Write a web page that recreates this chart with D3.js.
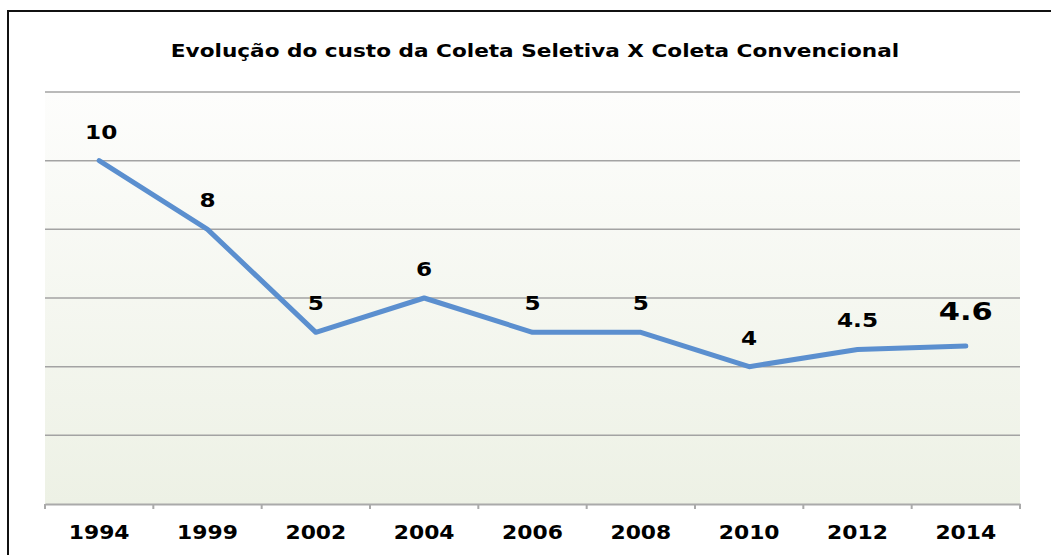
<!DOCTYPE html>
<html>
<head>
<meta charset="utf-8">
<script src="https://cdn.jsdelivr.net/npm/d3@7"></script>
<style>
  body { margin: 0; background: #fff; }
  text { font-family: "DejaVu Sans", Verdana, sans-serif; font-weight: bold; fill: #000; }
</style>
</head>
<body>
<script>
// chart data
var years = ["1994", "1999", "2002", "2004", "2006", "2008", "2010", "2012", "2014"];
var custo = [10, 8, 5, 6, 5, 5, 4, 4.5, 4.6];
var labels = ["10", "8", "5", "6", "5", "5", "4", "4.5", "4.6"];
var gridValues = [0, 2, 4, 6, 8, 10, 12];
var title = "Evolução do custo da Coleta Seletiva X Coleta Convencional";

var width = 1051, height = 555;
var margin = {left: 45, right: 31, top: 92, bottom: 51};

var svg = d3.select("body").append("svg")
  .attr("width", width).attr("height", height);

// background gradient of the plot area
var grad = svg.append("defs").append("linearGradient")
  .attr("id", "bg").attr("x1", 0).attr("y1", 0).attr("x2", 0).attr("y2", 1);
grad.append("stop").attr("offset", "0%").attr("stop-color", "#fdfdfc");
grad.append("stop").attr("offset", "100%").attr("stop-color", "#edf1e5");

var x = d3.scaleBand().domain(years)
  .range([margin.left, width - margin.right]);
var y = d3.scaleLinear().domain([0, 12])
  .range([height - margin.bottom, margin.top]);

// text in the original is stretched sideways, so scale it around its anchor
function stretched(sel, sx) {
  return sel.attr("transform", function(d) {
    var p = d3.select(this);
    var tx = +p.attr("x"), ty = +p.attr("y");
    return "translate(" + tx + "," + ty + ") scale(" + sx + ",1) translate(" + (-tx) + "," + (-ty) + ")";
  });
}

// frame (only top and left edges visible)
svg.append("path")
  .attr("d", "M8," + (height) + "V11H" + width)
  .attr("fill", "none").attr("stroke", "#111").attr("stroke-width", 2);

svg.append("rect")
  .attr("x", margin.left).attr("y", y(12))
  .attr("width", x.range()[1] - x.range()[0])
  .attr("height", y(0) - y(12))
  .attr("fill", "url(#bg)");

// gridlines
svg.append("g").selectAll("line")
  .data(gridValues.filter(function(d) { return d > 0; }))
  .enter().append("line")
  .attr("x1", margin.left).attr("x2", width - margin.right)
  .attr("y1", function(d) { return y(d); })
  .attr("y2", function(d) { return y(d); })
  .attr("stroke", "#a3a3a3").attr("stroke-width", 1.5);

// x axis (domain only, labels drawn below)
var xAxis = svg.append("g")
  .attr("transform", "translate(0," + y(0) + ")")
  .call(d3.axisBottom(x).tickSize(0).tickFormat(""));
xAxis.select(".domain").attr("stroke", "#aaa").attr("stroke-width", 2);

svg.append("g").selectAll("text")
  .data(years)
  .enter().append("text")
  .attr("x", function(d) { return x(d) + x.bandwidth() / 2; })
  .attr("y", y(0) + 35)
  .attr("text-anchor", "middle")
  .style("font-size", "19px")
  .text(function(d) { return d; })
  .call(stretched, 1.15);

// band edge ticks
var edges = years.map(function(d) { return x(d); }).concat([x.range()[1]]);
svg.append("g").selectAll("line")
  .data(edges)
  .enter().append("line")
  .attr("x1", function(d) { return d; }).attr("x2", function(d) { return d; })
  .attr("y1", y(0)).attr("y2", y(0) + 5)
  .attr("stroke", "#aaa").attr("stroke-width", 2);

// line
var line = d3.line()
  .x(function(d, i) { return x(years[i]) + x.bandwidth() / 2; })
  .y(function(d) { return y(d); });

svg.append("path")
  .datum(custo)
  .attr("d", line)
  .attr("fill", "none")
  .attr("stroke", "#5b8fcf")
  .attr("stroke-width", 5)
  .attr("stroke-linejoin", "round")
  .attr("stroke-linecap", "round");

// data labels
var last = custo.length - 1;
svg.append("g").selectAll("text")
  .data(custo)
  .enter().append("text")
  .attr("x", function(d, i) { return x(years[i]) + x.bandwidth() / 2 + (i == 0 ? 2 : 0); })
  .attr("y", function(d, i) { return y(d) - (i == last ? 26 : 22); })
  .attr("text-anchor", "middle")
  .style("font-size", function(d, i) { return i == last ? "25px" : "19px"; })
  .text(function(d, i) { return labels[i]; })
  .call(stretched, 1.22);

// title
svg.append("text")
  .attr("x", 535).attr("y", 57)
  .attr("text-anchor", "middle")
  .style("font-size", "18px")
  .text(title)
  .call(stretched, 1.2);
</script>
</body>
</html>
